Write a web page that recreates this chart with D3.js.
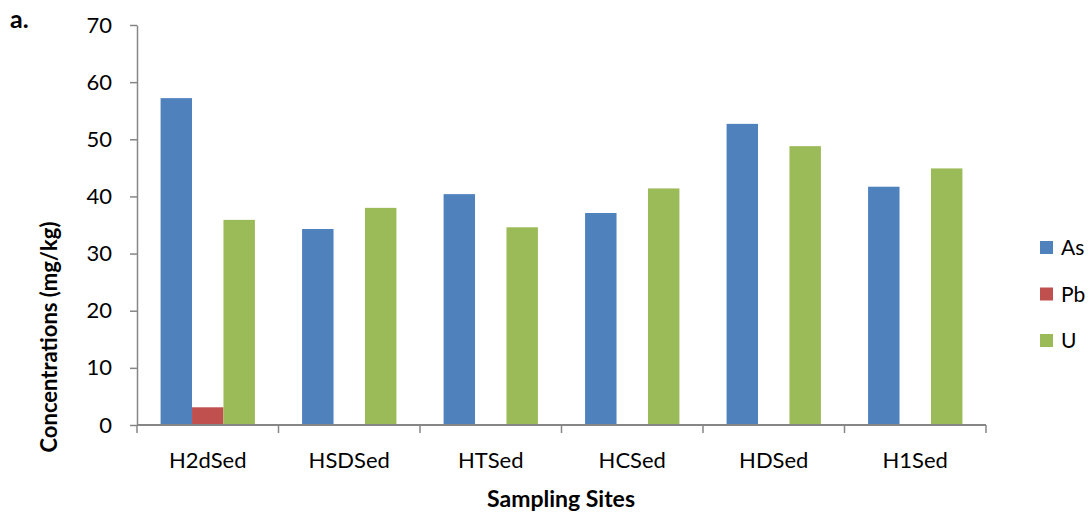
<!DOCTYPE html>
<html>
<head>
<meta charset="utf-8">
<script src="https://cdn.jsdelivr.net/npm/d3@7"></script>
<style>
  html, body { margin: 0; padding: 0; background: #fff; }
  svg { display: block; font-family: Lato, "Open Sans", sans-serif; }
</style>
</head>
<body>
<svg id="chart" width="1092" height="517"></svg>
<script>
// Sampling sites along the x axis
const sites = ["H2dSed", "HSDSed", "HTSed", "HCSed", "HDSed", "H1Sed"];
// Element names, in legend order
const elements = ["As", "Pb", "U"];
// Concentrations (mg/kg) per site
const asValues = [57.2, 34.3, 40.4, 37.1, 52.7, 41.7];
const pbValues = [3.1, 0, 0, 0, 0, 0];
const uValues  = [35.9, 38.0, 34.6, 41.4, 48.8, 44.9];
// Y axis ticks
const yTicks = [0, 10, 20, 30, 40, 50, 60, 70];

const colors = { As: "#4F81BD", Pb: "#C0504D", U: "#9BBB59" };
const seriesValues = { As: asValues, Pb: pbValues, U: uValues };

const svg = d3.select("#chart");
const margin = { left: 137, right: 106, top: 25, bottom: 92 };
const W = 1092, H = 517;

const x = d3.scaleBand().domain(sites)
  .range([margin.left, W - margin.right]);
const y = d3.scaleLinear().domain([0, 70])
  .range([H - margin.bottom, margin.top]);

// Bars: width = band / 4.5 (gap width 150%)
const barW = x.bandwidth() / 4.5;
const x1 = d3.scaleBand().domain(elements)
  .range([0, barW * 3]);

const rows = sites.map((s, i) => ({
  site: s,
  vals: elements.map(e => ({ key: e, value: seriesValues[e][i] }))
}));

const groups = svg.append("g").selectAll("g").data(rows).join("g")
  .attr("transform", d => `translate(${x(d.site) + (x.bandwidth() - barW * 3) / 2},0)`);

groups.selectAll("rect")
  .data(d => d.vals.filter(v => v.value > 0))
  .join("rect")
  .attr("x", d => x1(d.key))
  .attr("width", x1.bandwidth())
  .attr("y", d => y(d.value))
  .attr("height", d => y(0) - y(d.value))
  .attr("fill", d => colors[d.key]);

const axisColor = "#868686";

// Y axis
const yAxis = svg.append("g")
  .attr("transform", `translate(${margin.left},0)`)
  .call(d3.axisLeft(y).tickValues(yTicks).tickSize(7).tickSizeOuter(0).tickPadding(18));
yAxis.select(".domain").attr("stroke", axisColor).attr("stroke-width", 1.5);
yAxis.selectAll(".tick line").attr("stroke", axisColor).attr("stroke-width", 1.5);
yAxis.selectAll(".tick text")
  .attr("font-size", 22).attr("fill", "#000")
  .attr("font-family", "Lato, 'Open Sans', sans-serif");

// X axis with ticks at band boundaries
const xAxis = svg.append("g")
  .attr("transform", `translate(0,${y(0)})`);
xAxis.append("line")
  .attr("x1", margin.left).attr("x2", W - margin.right)
  .attr("stroke", axisColor).attr("stroke-width", 2);
const boundaries = sites.map(s => x(s)).concat([x(sites[sites.length - 1]) + x.bandwidth()]);
xAxis.selectAll("line.tk").data(boundaries).join("line")
  .attr("class", "tk")
  .attr("x1", d => d).attr("x2", d => d)
  .attr("y1", 0).attr("y2", 8)
  .attr("stroke", axisColor).attr("stroke-width", 1.5);
xAxis.selectAll("text").data(sites).join("text")
  .attr("x", d => x(d) + x.bandwidth() / 2)
  .attr("y", 43)
  .attr("text-anchor", "middle")
  .attr("font-size", 22)
  .text(d => d);

// Axis titles
svg.append("text")
  .attr("x", 561).attr("y", 507)
  .attr("text-anchor", "middle")
  .attr("font-size", 23).attr("font-weight", "bold")
  .text("Sampling Sites");

svg.append("text")
  .attr("transform", "translate(57,337) rotate(-90)")
  .attr("text-anchor", "middle")
  .attr("font-size", 22).attr("font-weight", "bold")
  .text("Concentrations (mg/kg)");

// Panel label
svg.append("text")
  .attr("x", 10).attr("y", 28)
  .attr("font-size", 25).attr("font-weight", "bold")
  .text("a.");

// Legend
const legend = svg.append("g").selectAll("g").data(elements).join("g")
  .attr("transform", (d, i) => `translate(1040,${247 + i * 46.5})`);
legend.append("rect")
  .attr("x", 0).attr("y", -6).attr("width", 13).attr("height", 13)
  .attr("fill", d => colors[d]);
legend.append("text")
  .attr("x", 21).attr("y", 8)
  .attr("font-size", 21)
  .text(d => d);
</script>
</body>
</html>
